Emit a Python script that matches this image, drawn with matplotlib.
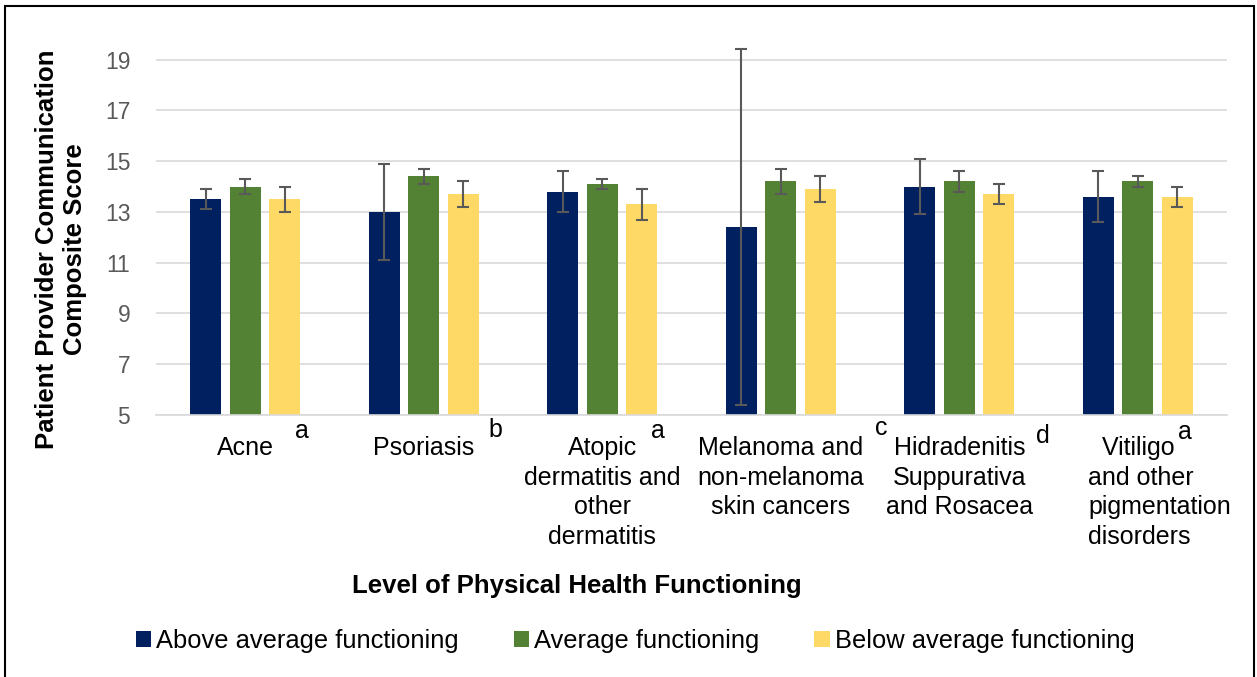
import matplotlib.pyplot as plt
import matplotlib.transforms as mtransforms
import numpy as np
from matplotlib.patches import Rectangle

plt.rcParams["font.family"] = ["Liberation Sans", "DejaVu Sans"]

# Composite score by condition and level of physical health functioning
categories = [
    "Acne",
    "Psoriasis",
    "Atopic\ndermatitis and\nother\ndermatitis",
    "Melanoma and\nnon-melanoma\nskin cancers",
    "Hidradenitis\nSuppurativa\nand Rosacea",
    "  Vitiligo\nand other\npigmentation\ndisorders",
]
sig_letters = ["a", "b", "a", "c", "d", "a"]
series = ["Above average functioning", "Average functioning", "Below average functioning"]
above_mean = [13.5, 13.0, 13.8, 12.4, 14.0, 13.6]
above_err = [0.4, 1.9, 0.8, 7.0, 1.1, 1.0]
average_mean = [14.0, 14.4, 14.1, 14.2, 14.2, 14.2]
average_err = [0.3, 0.3, 0.2, 0.5, 0.4, 0.2]
below_mean = [13.5, 13.7, 13.3, 13.9, 13.7, 13.6]
below_err = [0.5, 0.5, 0.6, 0.5, 0.4, 0.4]

colors = ["#002060", "#548235", "#FFD966"]
W, H = 1257, 677

fig = plt.figure(figsize=(W / 100, H / 100), dpi=100)
ax = fig.add_axes([156 / W, (H - 415) / H, 1071 / W, 396 / H])

x = np.arange(len(categories))
width = 0.174
step = 0.221
handles = []
for k, (means, errs) in enumerate(
    [(above_mean, above_err), (average_mean, average_err), (below_mean, below_err)]
):
    b = ax.bar(
        x + (k - 1) * step,
        means,
        width,
        color=colors[k],
        label=series[k],
        zorder=2,
    )
    ax.errorbar(
        x + (k - 1) * step,
        means,
        yerr=errs,
        fmt="none",
        ecolor="#595959",
        elinewidth=1.5,
        capsize=4,
        capthick=1.5,
        zorder=3,
    )
    handles.append(b)

ax.set_ylim(5, 20.6)
ax.set_xlim(-0.5, len(categories) - 0.5)
ax.set_yticks(np.arange(5, 20, 2))
ax.yaxis.grid(True, color="#D9D9D9", linewidth=1.2, zorder=0)
ax.set_axisbelow(True)
for s in ["top", "right", "left"]:
    ax.spines[s].set_visible(False)
ax.spines["bottom"].set_color("#D9D9D9")
ax.spines["bottom"].set_linewidth(1.2)
ax.tick_params(axis="y", length=0, pad=18.5, labelsize=16.5, labelcolor="#595959")
ax.tick_params(axis="x", length=0, labelbottom=False)

# category labels and significance letters under the axis
trans = mtransforms.blended_transform_factory(ax.transData, fig.transFigure)
label_top = 1 - 436 / H
for i, lab in enumerate(categories):
    if i == len(categories) - 1:
        ax.text(i - 0.278, label_top, lab, transform=trans, ha="left",
                va="top", fontsize=18, linespacing=1.3, multialignment="left")
    else:
        ax.text(i, label_top, lab, transform=trans, ha="center",
                va="top", fontsize=18, linespacing=1.3, multialignment="center")

letter_dx = [0.32, 0.403, 0.314, 0.564, 0.47, 0.267]
letter_y = [438, 437, 438, 435, 443, 439]
for i, (let, dx, ly) in enumerate(zip(sig_letters, letter_dx, letter_y)):
    ax.text(i + dx, 1 - ly / H, let, transform=trans, ha="center",
            va="baseline", fontsize=18)

fig.text(61 / W, 1 - 249 / H, "Patient Provider Communication\nComposite Score",
         rotation=90, ha="center", va="center", multialignment="center",
         fontsize=18.5, fontweight="bold", linespacing=1.25)

fig.text(576.5 / W, 1 - 593 / H, "Level of Physical Health Functioning",
         ha="center", va="baseline", fontsize=18.5, fontweight="bold")

fig.legend(
    handles=handles,
    labels=series,
    loc="center",
    bbox_to_anchor=(635 / W, 1 - 641 / H),
    ncol=3,
    frameon=False,
    fontsize=18.4,
    handlelength=0.6,
    handleheight=0.6,
    handletextpad=0.2,
    columnspacing=2.15,
    borderpad=0,
)

fig.add_artist(Rectangle((4.5 / W, -0.02), 1249 / W, 1.02 - 5.5 / H,
                         transform=fig.transFigure, fill=False,
                         edgecolor="black", linewidth=1.5))

fig.savefig("out.png", dpi=100, facecolor="white")
